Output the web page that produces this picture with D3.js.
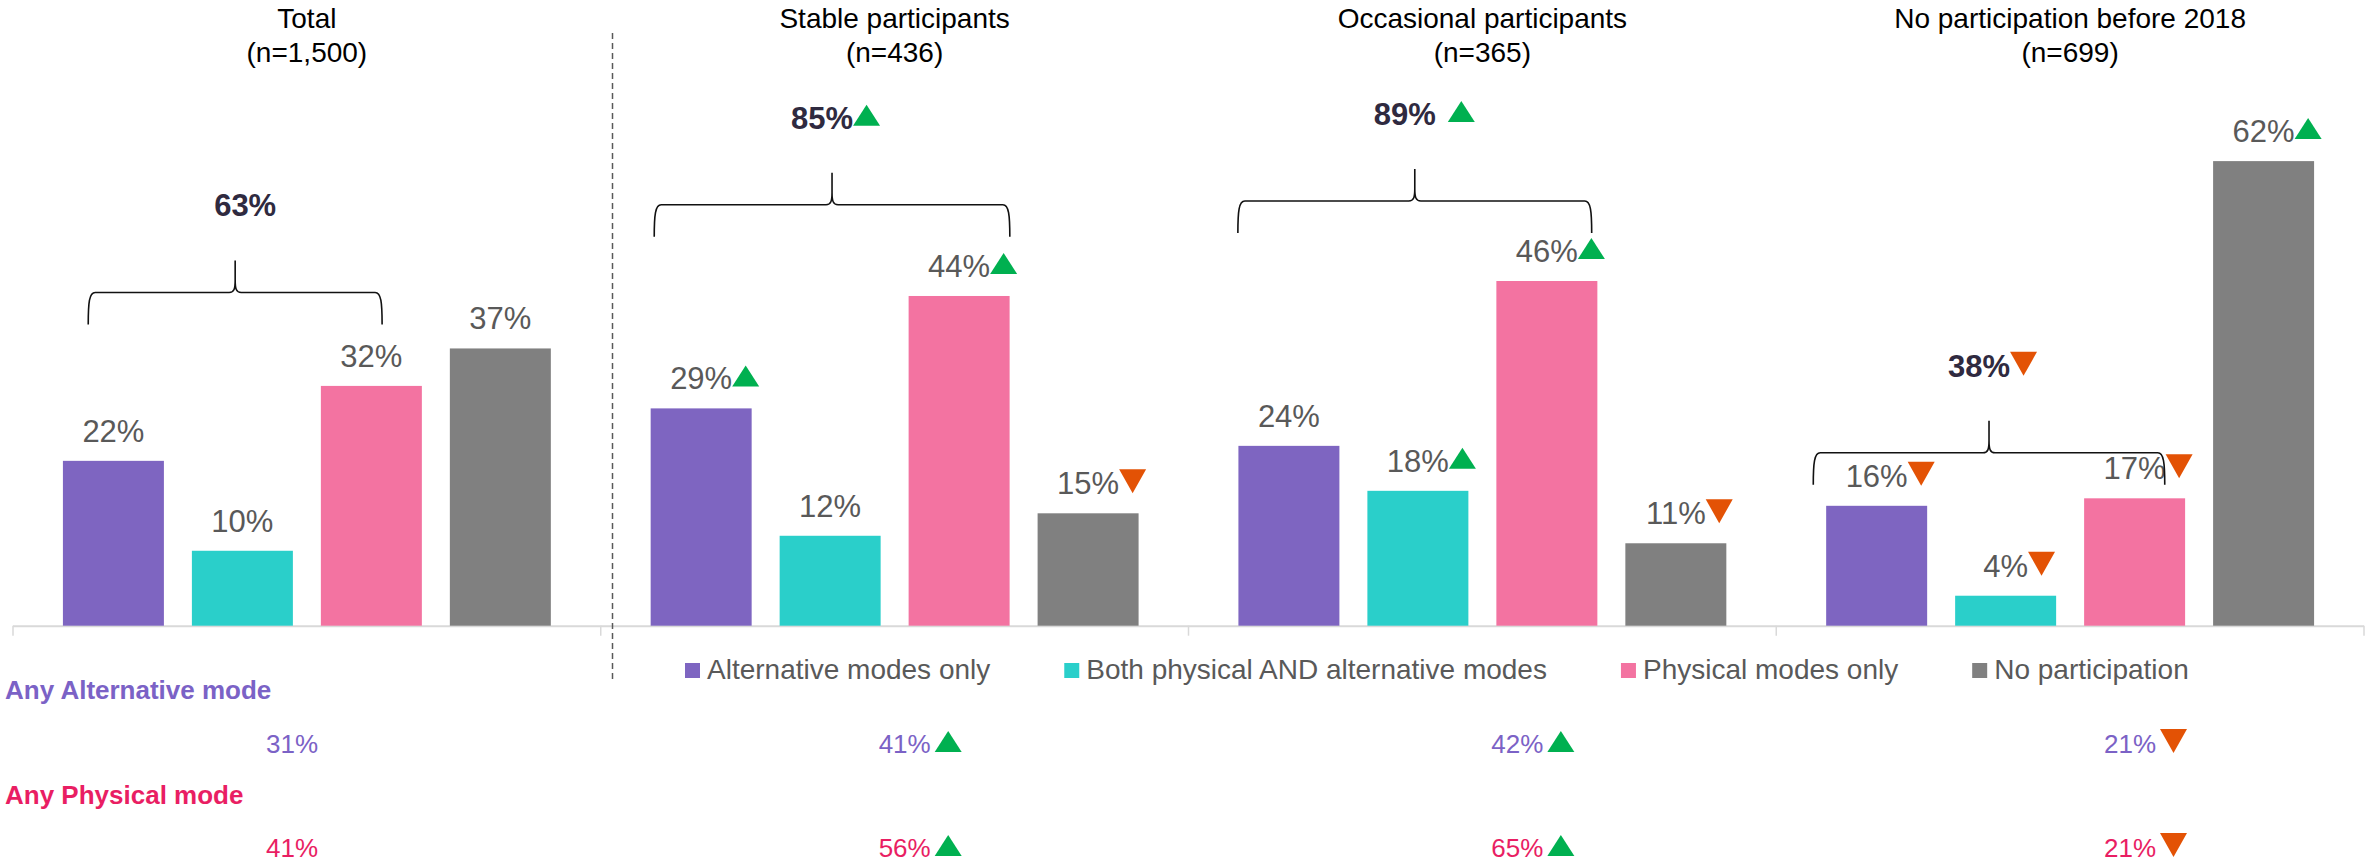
<!DOCTYPE html>
<html>
<head>
<meta charset="utf-8">
<script src="https://cdn.jsdelivr.net/npm/d3@7"></script>
<style>
  html, body { margin: 0; padding: 0; background: #fff; }
  svg text { font-family: "Liberation Sans", Arial, Helvetica, sans-serif; }
</style>
</head>
<body>
<svg id="chart" width="2369" height="864"></svg>
<script>
// ---------------- DATA ----------------
const groups = ["Total", "Stable participants", "Occasional participants", "No participation before 2018"];
const groupN = ["(n=1,500)", "(n=436)", "(n=365)", "(n=699)"];
const series = ["Alternative modes only", "Both physical AND alternative modes", "Physical modes only", "No participation"];

const altOnly   = [22, 29, 24, 16];
const bothModes = [10, 12, 18, 4];
const physOnly  = [32, 44, 46, 17];
const noPart    = [37, 15, 11, 62];

const altOnlySig   = ["", "up", "", "down"];
const bothModesSig = ["", "", "up", "down"];
const physOnlySig  = ["", "up", "up", "down"];
const noPartSig    = ["", "down", "down", "up"];

const anyModeTotal    = [63, 85, 89, 38];
const anyModeTotalSig = ["", "up", "up", "down"];

const anyAlt     = [31, 41, 42, 21];
const anyAltSig  = ["", "up", "up", "down"];
const anyPhys    = [41, 56, 65, 21];
const anyPhysSig = ["", "up", "up", "down"];

const rowLabels = ["Any Alternative mode", "Any Physical mode"];

// brace annotation geometry (fraction of group width, and y-value of the brace ends)
const braceFrom  = [0.128, 0.091, 0.084, 0.063];
const braceTo    = [0.628, 0.696, 0.686, 0.661];
const braceLevel = [40.2, 51.9, 52.4, 18.8];

// ---------------- STYLE ----------------
const colors = ["#7E65C1", "#2ACFCA", "#F373A1", "#808080"];
const green = "#00B050", orange = "#E35205";
const labelGrey = "#595959";
const boldDark = "#2F2A40";
const rowColors = ["#7B62C6", "#E91E63"];

const svg = d3.select("#chart");

const x0 = d3.scaleBand().domain(groups).range([13, 2364]).padding(0);
const x1 = d3.scaleBand().domain(series).range([0, x0.bandwidth()])
  .paddingInner(0.217).paddingOuter(0.387);
const y = d3.scaleLinear().domain([0, 83.5]).range([625.7, 0]);
const xRow = d3.scalePoint().domain(groups).range([292, 2130]);

const seriesVals = [altOnly, bothModes, physOnly, noPart];
const seriesSig = [altOnlySig, bothModesSig, physOnlySig, noPartSig];

const barData = [];
groups.forEach((g, gi) => {
  series.forEach((s, si) => {
    barData.push({ g, s, si, v: seriesVals[si][gi], sig: seriesSig[si][gi] });
  });
});

// triangle helper
function tri(sel, x, base, dir, w, top, bottom) {
  const pts = dir === "up"
    ? [[x, base + bottom], [x + w, base + bottom], [x + w / 2, base + top]]
    : [[x, base + top], [x + w, base + top], [x + w / 2, base + bottom]];
  sel.append("path")
    .attr("d", d3.line()(pts) + "Z")
    .attr("fill", dir === "up" ? green : orange);
}

// ---------------- AXIS BASELINE ----------------
const axisG = svg.append("g");
axisG.append("line")
  .attr("x1", x0.range()[0]).attr("x2", x0.range()[1])
  .attr("y1", y(0) + 0.5).attr("y2", y(0) + 0.5)
  .attr("stroke", "#D9D9D9").attr("stroke-width", 2);
const tickXs = groups.map(g => x0(g)).concat([x0.range()[1]]);
axisG.selectAll("line.tick").data(tickXs).enter().append("line")
  .attr("class", "tick")
  .attr("x1", d => d).attr("x2", d => d)
  .attr("y1", y(0)).attr("y2", y(0) + 10)
  .attr("stroke", "#D9D9D9").attr("stroke-width", 1.5);

// ---------------- BARS ----------------
svg.append("g").selectAll("rect").data(barData).enter().append("rect")
  .attr("x", d => x0(d.g) + x1(d.s))
  .attr("y", d => y(d.v))
  .attr("width", x1.bandwidth())
  .attr("height", d => y(0) - y(d.v))
  .attr("fill", d => colors[d.si]);

// value labels
const lblG = svg.append("g");
barData.forEach(d => {
  const cx = x0(d.g) + x1(d.s) + x1.bandwidth() / 2;
  const base = y(d.v) - 19;
  const t = lblG.append("text")
    .attr("x", cx).attr("y", base)
    .attr("text-anchor", "middle")
    .attr("font-size", 31).attr("fill", labelGrey)
    .text(d.v + "%");
  if (d.sig) {
    const w = t.node().getComputedTextLength();
    if (d.sig === "up") tri(lblG, cx + w / 2, base, "up", 27, -24, -3);
    else tri(lblG, cx + w / 2, base, "down", 27, -25, -1);
  }
});

// ---------------- TITLES ----------------
const titleG = svg.append("g");
groups.forEach((g, i) => {
  const cx = x0(g) + x0.bandwidth() / 2;
  titleG.append("text").attr("x", cx).attr("y", 28)
    .attr("text-anchor", "middle").attr("font-size", 28).attr("fill", "#000")
    .text(g);
  titleG.append("text").attr("x", cx).attr("y", 62)
    .attr("text-anchor", "middle").attr("font-size", 28).attr("fill", "#000")
    .text(groupN[i]);
});

// ---------------- BRACES ----------------
const braceG = svg.append("g");
groups.forEach((g, i) => {
  const bx1 = x0(g) + braceFrom[i] * x0.bandwidth();
  const bx2 = x0(g) + braceTo[i] * x0.bandwidth();
  const px = (bx1 + bx2) / 2;
  const yEnd = y(braceLevel[i]);
  const yTop = yEnd - 32;
  const yPeak = yTop - 32;
  const p = d3.path();
  p.moveTo(bx1, yEnd);
  p.bezierCurveTo(bx1, yEnd - 22, bx1 + 1, yTop, bx1 + 7, yTop);
  p.lineTo(px - 6, yTop);
  p.bezierCurveTo(px - 1, yTop, px, yTop - 4, px, yTop - 12);
  p.lineTo(px, yPeak);
  p.moveTo(px, yTop - 12);
  p.bezierCurveTo(px, yTop - 4, px + 1, yTop, px + 6, yTop);
  p.lineTo(bx2 - 7, yTop);
  p.bezierCurveTo(bx2 - 1, yTop, bx2, yEnd - 22, bx2, yEnd);
  braceG.append("path").attr("d", p.toString())
    .attr("fill", "none").attr("stroke", "#111").attr("stroke-width", 1.6);

  const base = yPeak - 44;
  const sig = anyModeTotalSig[i];
  const tx = sig ? px - 10 : px + 10;
  const t = braceG.append("text").attr("x", tx).attr("y", base)
    .attr("text-anchor", "middle").attr("font-size", 31).attr("font-weight", "bold")
    .attr("fill", boldDark).text(anyModeTotal[i] + "%");
  if (sig) {
    const w = t.node().getComputedTextLength();
    const gap = i === 2 ? 12 : 0;
    if (sig === "up") tri(braceG, tx + w / 2 + gap, base, "up", 27, -24, -3);
    else tri(braceG, tx + w / 2 + gap, base, "down", 27, -25, -1);
  }
});

// ---------------- SEPARATOR ----------------
svg.append("line")
  .attr("x1", 612.5).attr("x2", 612.5).attr("y1", 33).attr("y2", 681)
  .attr("stroke", "#595959").attr("stroke-width", 1.5).attr("stroke-dasharray", "6,4");

// ---------------- LEGEND ----------------
const legG = svg.append("g");
let lx = 685;
series.forEach((s, i) => {
  legG.append("rect").attr("x", lx).attr("y", 663).attr("width", 15).attr("height", 15)
    .attr("fill", colors[i]);
  const t = legG.append("text").attr("x", lx + 22).attr("y", 679)
    .attr("font-size", 28).attr("fill", labelGrey).text(s);
  lx += 22 + t.node().getComputedTextLength() + 74;
});

// ---------------- BOTTOM ROWS ----------------
const rowG = svg.append("g");
const rowVals = [anyAlt, anyPhys];
const rowSigs = [anyAltSig, anyPhysSig];
const rowLabelY = [699, 804];
const rowValY = [753, 857];
rowLabels.forEach((lab, r) => {
  rowG.append("text").attr("x", 5).attr("y", rowLabelY[r])
    .attr("font-size", 26).attr("font-weight", "bold").attr("fill", rowColors[r])
    .text(lab);
  groups.forEach((g, i) => {
    const cx = xRow(g);
    const t = rowG.append("text").attr("x", cx).attr("y", rowValY[r])
      .attr("text-anchor", "middle").attr("font-size", 26).attr("fill", rowColors[r])
      .text(rowVals[r][i] + "%");
    const sig = rowSigs[r][i];
    if (sig) {
      const w = t.node().getComputedTextLength();
      if (sig === "up") tri(rowG, cx + w / 2 + 4, rowValY[r], "up", 27, -22, -1);
      else tri(rowG, cx + w / 2 + 4, rowValY[r], "down", 27, -24, 0);
    }
  });
});
</script>
</body>
</html>
